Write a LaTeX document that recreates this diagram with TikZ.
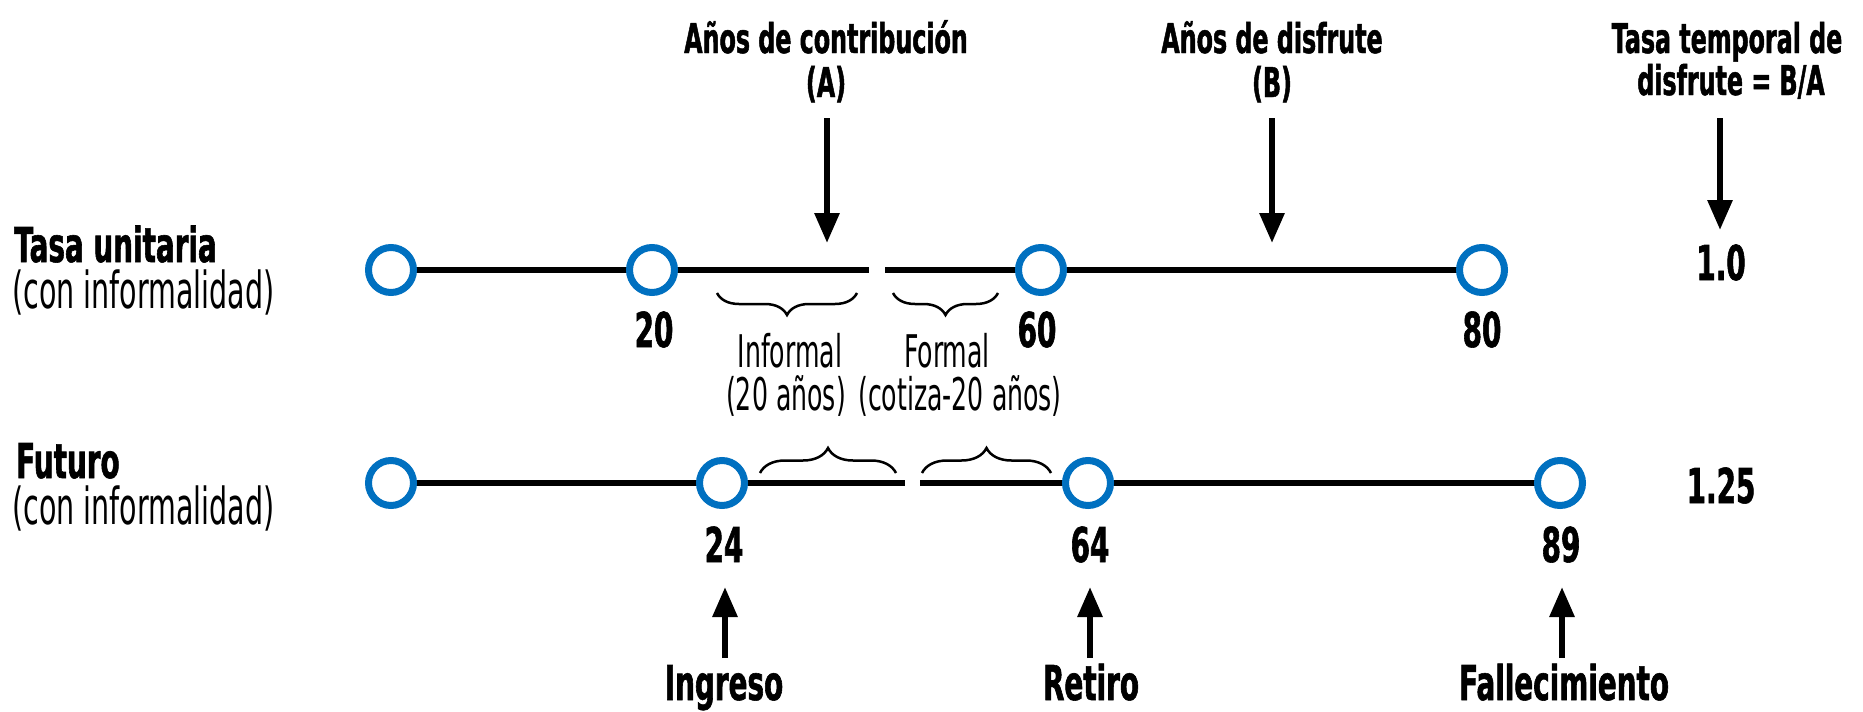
\documentclass[tikz,border=0pt]{standalone}
\usepackage{fontspec}
\setmainfont{DejaVu Sans}[FakeStretch=0.56]
\newfontfamily\bfnt{DejaVu Sans}[FakeStretch=0.58, FakeBold=1.2]
\usetikzlibrary{arrows.meta,decorations.pathreplacing}
\definecolor{dotblue}{RGB}{0,112,192}
\begin{document}
\begin{tikzpicture}[x=1pt,y=-1pt,
  dot/.style={circle, draw=dotblue, line width=7pt, fill=white, minimum size=45pt, inner sep=0pt},
  tl/.style={line width=6pt},
  arr/.style={line width=6pt, -{Triangle[length=30pt,width=24pt]}},
  ttl/.style={font=\bfnt\bfseries\fontsize{41}{44}\selectfont, inner sep=0pt, anchor=base},
  num/.style={font=\bfnt\bfseries\fontsize{48}{52}\selectfont, inner sep=0pt, anchor=base},
  rowb/.style={font=\bfnt\bfseries\fontsize{48}{52}\selectfont, inner sep=0pt, anchor=base west},
  rowr/.style={font=\fontsize{51}{55}\selectfont, inner sep=0pt, anchor=base west},
  brl/.style={font=\fontsize{45}{48}\selectfont, inner sep=0pt, anchor=base},
  brdown/.style={decorate, decoration={brace, mirror, amplitude=22pt}, line width=2.5pt},
  brup/.style={decorate, decoration={brace, amplitude=25pt}, line width=2.5pt}
]
\useasboundingbox (0,0) rectangle (1863,712);

% titles
\node[ttl] (tA1) at (826,53) {Años de contribución};
\node[ttl] (tA2) at (826,97) {(A)};
\node[ttl] (tB1) at (1272,53) {Años de disfrute};
\node[ttl] (tB2) at (1272,97) {(B)};
\node[ttl] (tC1) at (1727,53) {Tasa temporal de};
\node[ttl] (tC2) at (1731,95) {disfrute = B/A};

% row labels
\node[rowb] (r1a) at (14,262) {Tasa unitaria};
\node[rowr] (r1b) at (12,308) {(con informalidad)};
\node[rowb] (r2a) at (16,478) {Futuro};
\node[rowr] (r2b) at (12,524) {(con informalidad)};

% row 1 timeline
\coordinate (g1l) at (869,270);
\coordinate (g1r) at (885,270);
\coordinate (c10) at (391,270);
\coordinate (c80p) at (1482,270);
\draw[tl] (c10) -- (g1l);
\draw[tl] (g1r) -- (c80p);
\node[dot] (d10) at (391,270) {};
\node[dot] (d20) at (652,270) {};
\node[dot] (d60) at (1041,270) {};
\node[dot] (d80) at (1482,270) {};
\node[num] (n20) at (654,347) {20};
\node[num] (n60) at (1037,347) {60};
\node[num] (n80) at (1482,347) {80};
\node[num] (v1) at (1721,280) {1.0};

% row 2 timeline
\coordinate (g2l) at (905,483);
\coordinate (g2r) at (920,483);
\coordinate (c20) at (391,483);
\coordinate (c89p) at (1560,483);
\draw[tl] (c20) -- (g2l);
\draw[tl] (g2r) -- (c89p);
\node[dot] (e0) at (391,483) {};
\node[dot] (e24) at (722,483) {};
\node[dot] (e64) at (1088,483) {};
\node[dot] (e89) at (1560,483) {};
\node[num] (n24) at (724,562) {24};
\node[num] (n64) at (1090,562) {64};
\node[num] (n89) at (1561,562) {89};
\node[num] (v2) at (1721,503) {1.25};

% braces row 1
\coordinate (b1a) at (717,293); \coordinate (b1b) at (857,293);
\coordinate (b2a) at (893,293); \coordinate (b2b) at (998,293);
\draw[brdown] (b1a) -- (b1b);
\draw[brdown] (b2a) -- (b2b);
\node[brl] (inf1) at (790,367) {Informal};
\node[brl] (inf2) at (786,410) {(20 años)};
\node[brl] (for1) at (947,367) {Formal};
\node[brl] (for2) at (960,410) {(cotiza-20 años)};

% braces row 2
\coordinate (b3a) at (760,473); \coordinate (b3b) at (896,473);
\coordinate (b4a) at (922,473); \coordinate (b4b) at (1051,473);
\draw[brup] (b3a) -- (b3b);
\draw[brup] (b4a) -- (b4b);

% top arrows
\coordinate (sA) at (827,118); \coordinate (eA) at (827,243);
\coordinate (sB) at (1272,118); \coordinate (eB) at (1272,243);
\coordinate (sC) at (1720,118); \coordinate (eC) at (1720,230);
\draw[arr] (sA) -- (eA);
\draw[arr] (sB) -- (eB);
\draw[arr] (sC) -- (eC);

% bottom labels and arrows
\node[num] (ing) at (724,700) {Ingreso};
\node[num] (ret) at (1091,700) {Retiro};
\node[num] (fal) at (1564,700) {Fallecimiento};
\coordinate (uA) at (725,658); \coordinate (vA) at (725,587);
\coordinate (uB) at (1090,658); \coordinate (vB) at (1090,587);
\coordinate (uC) at (1562,658); \coordinate (vC) at (1562,587);
\draw[arr] (uA) -- (vA);
\draw[arr] (uB) -- (vB);
\draw[arr] (uC) -- (vC);
\end{tikzpicture}
\end{document}
